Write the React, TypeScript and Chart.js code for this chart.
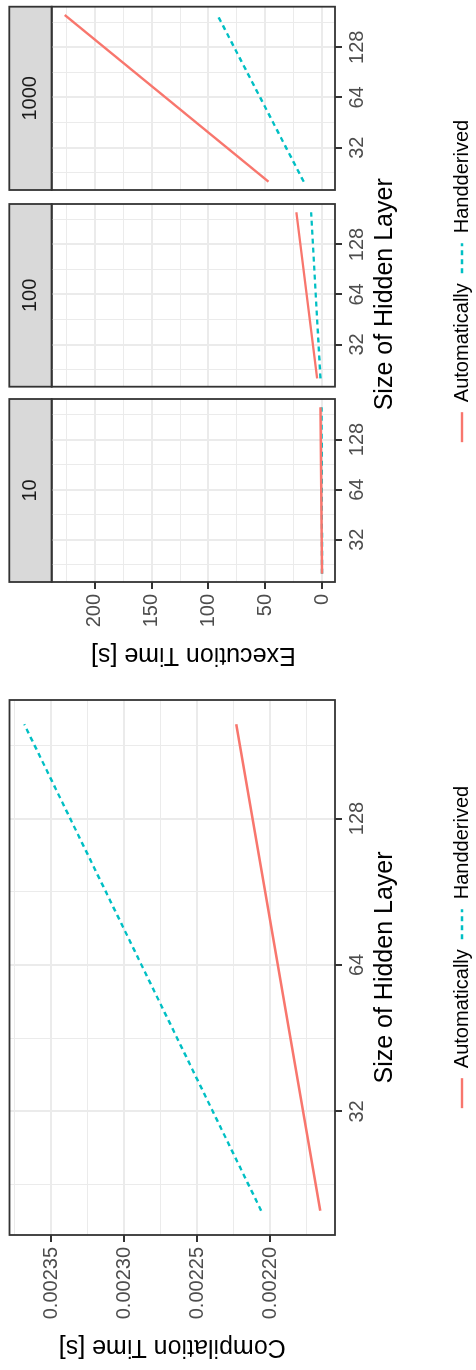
import React, { useEffect, useRef } from 'react';
import { Chart, registerables } from 'chart.js';

Chart.register(...registerables);

// ---------- data ----------
const hiddenSizes = [20, 200];
const seriesNames = ['Automatically', 'Handderived'];
const compAutomatically = [0.0021658, 0.0022233];
const compHandderived = [0.0022062, 0.0023683];
const facetLabels = ['10', '100', '1000'];
const execAutomatically = [
  [0.1, 1.5],
  [4.4, 22.7],
  [47.1, 226.5],
];
const execHandderived = [
  [0.1, 0.5],
  [1.5, 9.7],
  [16.2, 92.1],
];
const xMajorTicks = [32, 64, 128];
const xMinorTicks = [22.627, 45.255, 90.51, 181.019];
const compYMajor = [0.0022, 0.00225, 0.0023, 0.00235];
const compYMinor = [0.002175, 0.002225, 0.002275, 0.002325, 0.002375];
const execYMajor = [0, 50, 100, 150, 200];
const execYMinor = [25, 75, 125, 175, 225];

// ---------- style ----------
const RED = '#F8766D';
const CYAN = '#00BFC4';
const GRID = '#EBEBEB';
const DARK = '#333333';
const TICKTXT = '#4D4D4D';
const FONT = "'Liberation Sans', Arial, Helvetica, sans-serif";
const CANVAS_H = 500;
const LINE_W = 2.4;
const BORDER_W = 1.8;

Chart.defaults.font.family = FONT;

const X_MIN = 17.83;
const X_MAX = 224.3;
const COMP_Y_MIN = 0.0021557;
const COMP_Y_MAX = 0.0023784;
const EXEC_Y_MIN = -11.3;
const EXEC_Y_MAX = 237.9;

const near = (arr: number[], v: number) => arr.some((a) => Math.abs(a - v) < 1e-9 * Math.max(1, Math.abs(a)));

function zeroPadding(axis: any) {
  axis.paddingTop = 0;
  axis.paddingBottom = 0;
  axis.paddingLeft = 0;
  axis.paddingRight = 0;
}

function makeX(height: number, opts: any = {}) {
  const all = [...xMinorTicks, ...xMajorTicks].sort((a, b) => a - b);
  return {
    type: 'logarithmic',
    min: X_MIN,
    max: X_MAX,
    bounds: 'data',
    afterBuildTicks: (axis: any) => {
      axis.ticks = all.map((v) => ({ value: v }));
    },
    afterFit: (axis: any) => {
      axis.height = height;
      zeroPadding(axis);
    },
    border: { display: false },
    grid: {
      color: GRID,
      lineWidth: (c: any) => (c.tick && near(xMajorTicks, c.tick.value) ? 2 : 1),
      tickLength: 7,
      tickWidth: 2,
      tickColor: (c: any) => (c.tick && near(xMajorTicks, c.tick.value) ? DARK : 'rgba(0,0,0,0)'),
    },
    ticks: {
      autoSkip: false,
      maxRotation: 0,
      minRotation: 0,
      padding: 3,
      color: TICKTXT,
      font: { size: 20 },
      callback: (v: any) => (near(xMajorTicks, v) ? String(v) : ''),
    },
    ...opts,
  };
}

function makeY(
  min: number,
  max: number,
  majors: number[],
  minors: number[],
  width: number,
  showLabels: boolean,
  fmt: (v: number) => string,
  title?: { text: string; padTop: number }
) {
  const all = [...minors, ...majors].sort((a, b) => a - b);
  return {
    type: 'linear',
    min,
    max,
    bounds: 'data',
    afterBuildTicks: (axis: any) => {
      axis.ticks = all.map((v) => ({ value: v }));
    },
    afterFit: (axis: any) => {
      axis.width = width;
      zeroPadding(axis);
    },
    border: { display: false },
    grid: {
      color: GRID,
      lineWidth: (c: any) => (c.tick && near(majors, c.tick.value) ? 2 : 1),
      drawTicks: showLabels,
      tickLength: showLabels ? 7 : 0,
      tickWidth: 2,
      tickColor: (c: any) => (c.tick && near(majors, c.tick.value) ? DARK : 'rgba(0,0,0,0)'),
    },
    ticks: {
      display: showLabels,
      autoSkip: false,
      padding: 5,
      color: TICKTXT,
      font: { size: 20 },
      callback: (v: any) => (near(majors, v) ? fmt(v) : ''),
    },
    title: title
      ? {
          display: true,
          text: title.text,
          color: '#000000',
          font: { size: 25, weight: 'normal' },
          padding: { top: title.padTop, bottom: 0 },
        }
      : { display: false },
  };
}

function dummyRight(width: number) {
  return {
    type: 'linear',
    position: 'right',
    display: true,
    grid: { display: false, drawTicks: false },
    ticks: { display: false },
    border: { display: false },
    afterFit: (axis: any) => {
      axis.width = width;
      zeroPadding(axis);
    },
  };
}

function makeDataset(label: string, color: string, dashed: boolean, ys: number[]) {
  return {
    label,
    data: ys.map((y, i) => ({ x: hiddenSizes[i], y })),
    borderColor: color,
    backgroundColor: color,
    borderWidth: LINE_W,
    borderDash: dashed ? [5, 4] : [],
    pointRadius: 0,
    pointStyle: 'line',
    tension: 0,
    fill: false,
  };
}

const legendOptions = {
  display: true,
  position: 'bottom',
  labels: {
    usePointStyle: true,
    pointStyleWidth: 30,
    color: '#000000',
    font: { size: 20 },
    padding: 10,
    generateLabels: (chart: any) =>
      chart.data.datasets.map((ds: any, i: number) => ({
        text: ds.label,
        fillStyle: ds.borderColor,
        strokeStyle: ds.borderColor,
        fontColor: '#000000',
        lineWidth: LINE_W,
        lineDash: ds.borderDash || [],
        pointStyle: 'line',
        hidden: false,
        datasetIndex: i,
      })),
  },
};

const xTitle = {
  display: true,
  text: 'Size of Hidden Layer',
  color: '#000000',
  font: { size: 25, weight: 'normal' },
  padding: { top: 0, bottom: 42 },
};

const panelBorder = {
  id: 'panelBorder',
  afterDatasetsDraw(chart: any) {
    const { ctx, chartArea } = chart;
    ctx.save();
    ctx.strokeStyle = DARK;
    ctx.lineWidth = BORDER_W;
    ctx.strokeRect(chartArea.left, chartArea.top, chartArea.right - chartArea.left, chartArea.bottom - chartArea.top);
    ctx.restore();
  },
};

function makeStrip(top: number) {
  return {
    id: 'strip',
    beforeDraw(chart: any) {
      const { ctx, chartArea } = chart;
      ctx.save();
      ctx.fillStyle = '#D9D9D9';
      ctx.fillRect(chartArea.left, top, chartArea.right - chartArea.left, chartArea.top - top);
      ctx.strokeStyle = DARK;
      ctx.lineWidth = BORDER_W;
      ctx.strokeRect(chartArea.left, top, chartArea.right - chartArea.left, chartArea.top - top);
      ctx.restore();
    },
  };
}

const baseOptions = {
  animation: false,
  responsive: false,
  maintainAspectRatio: false,
  devicePixelRatio: 1,
  events: [],
};

const COMP_W = 846;
const HOST_LEFT = 808;
const HOST_W = 1370 - HOST_LEFT;

function buildComp(): any {
  return {
    type: 'line',
    data: {
      datasets: [
        makeDataset(seriesNames[0], RED, false, compAutomatically),
        makeDataset(seriesNames[1], CYAN, true, compHandderived),
      ],
    },
    plugins: [panelBorder],
    options: {
      ...baseOptions,
      layout: { autoPadding: false, padding: { top: 9.5, bottom: 18, left: 0, right: 0 } },
      scales: {
        x: makeX(107, { title: xTitle }),
        y: makeY(COMP_Y_MIN, COMP_Y_MAX, compYMajor, compYMinor, 135, true, (v) => v.toFixed(5), {
          text: 'Compilation Time [s]',
          padTop: 8.5,
        }),
        yR: dummyRight(COMP_W - 670),
      },
      plugins: {
        legend: legendOptions,
        tooltip: { enabled: false },
        title: { display: false },
      },
    },
  };
}

function buildHost(): any {
  return {
    type: 'line',
    data: {
      datasets: [
        { ...makeDataset(seriesNames[0], RED, false, []), data: [] },
        { ...makeDataset(seriesNames[1], CYAN, true, []), data: [] },
      ],
    },
    options: {
      ...baseOptions,
      layout: { autoPadding: false, padding: { top: 9.5, bottom: 18, left: 0, right: 0 } },
      scales: {
        x: {
          type: 'linear',
          min: 0,
          max: 1,
          ticks: { display: false },
          grid: { display: false, drawTicks: false },
          border: { display: false },
          title: xTitle,
          afterFit: (axis: any) => {
            axis.height = 107;
            zeroPadding(axis);
          },
        },
        y: { display: false },
        yR: dummyRight(HOST_LEFT + 1370 - 2 * 1075.7),
      },
      plugins: {
        legend: legendOptions,
        tooltip: { enabled: false },
        title: { display: false },
      },
    },
  };
}

const facetCanvas = [
  { left: 690, width: 287, padLeft: 0, padRight: 6, yWidth: 98 },
  { left: 977, width: 196, padLeft: 6.3, padRight: 7, yWidth: 0 },
  { left: 1173, width: 197, padLeft: 7, padRight: 6.7, yWidth: 0 },
];

function buildFacet(i: number): any {
  const f = facetCanvas[i];
  const first = i === 0;
  return {
    type: 'line',
    data: {
      datasets: [
        makeDataset(seriesNames[0], RED, false, execAutomatically[i]),
        makeDataset(seriesNames[1], CYAN, true, execHandderived[i]),
      ],
    },
    plugins: [makeStrip(9.3), panelBorder],
    options: {
      ...baseOptions,
      layout: { autoPadding: false, padding: { top: 9.3, bottom: 0, left: f.padLeft, right: f.padRight } },
      scales: {
        x: makeX(CANVAS_H - 335),
        y: makeY(
          EXEC_Y_MIN,
          EXEC_Y_MAX,
          execYMajor,
          execYMinor,
          f.yWidth,
          first,
          (v) => String(v),
          first ? { text: 'Execution Time [s]', padTop: 10 } : undefined
        ),
      },
      plugins: {
        legend: { display: false },
        tooltip: { enabled: false },
        title: {
          display: true,
          text: facetLabels[i],
          fullSize: false,
          position: 'top',
          color: '#1A1A1A',
          font: { size: 20, weight: 'normal', lineHeight: 1.2 },
          padding: { top: 9.2, bottom: 9.2 },
        },
      },
    },
  };
}

function ChartBox({ left, width, build }: { left: number; width: number; build: () => any }) {
  const ref = useRef<HTMLCanvasElement>(null);
  useEffect(() => {
    const chart = new Chart(ref.current as HTMLCanvasElement, build());
    return () => chart.destroy();
  }, []);
  return (
    <canvas
      ref={ref}
      width={width}
      height={CANVAS_H}
      style={{ position: 'absolute', left, top: 0, width, height: CANVAS_H, display: 'block' }}
    />
  );
}

export default function App() {
  return (
    <div
      style={{
        position: 'absolute',
        left: 0,
        top: 0,
        width: 476,
        height: 1370,
        overflow: 'hidden',
        background: '#ffffff',
      }}
    >
      <div
        style={{
          position: 'absolute',
          left: 0,
          top: 0,
          width: 1370,
          height: 476,
          transformOrigin: '0 0',
          transform: 'translateY(1370px) rotate(-90deg)',
        }}
      >
        <ChartBox left={0} width={COMP_W} build={buildComp} />
        <ChartBox left={HOST_LEFT} width={HOST_W} build={buildHost} />
        {facetLabels.map((lab, i) => (
          <ChartBox key={lab} left={facetCanvas[i].left} width={facetCanvas[i].width} build={() => buildFacet(i)} />
        ))}
      </div>
    </div>
  );
}
